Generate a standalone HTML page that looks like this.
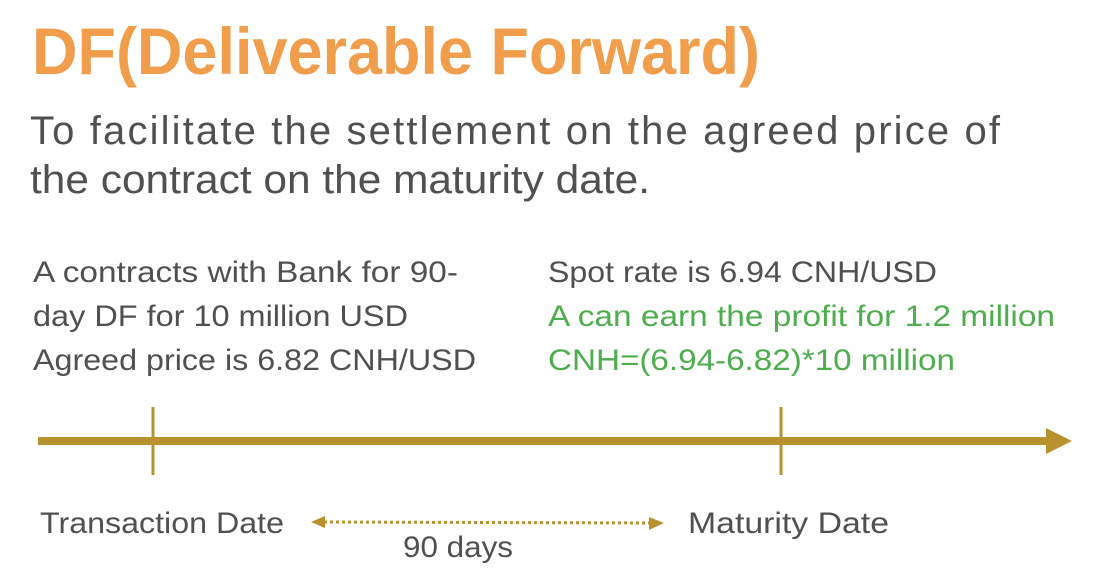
<!DOCTYPE html>
<html><head><meta charset="utf-8"><style>
html,body{margin:0;padding:0;background:#fff;width:1112px;height:582px;overflow:hidden}
text{font-family:"Liberation Sans",sans-serif}
</style></head><body>
<svg width="1112" height="582" viewBox="0 0 1112 582">
<text x="32" y="74" font-size="66" font-weight="600" fill="#F09D4C" textLength="728" lengthAdjust="spacingAndGlyphs">DF(Deliverable Forward)</text>
<g fill="#505050" font-size="40">
<text x="30" y="144" textLength="970" lengthAdjust="spacing">To facilitate the settlement on the agreed price of</text>
<text x="30" y="193" textLength="620" lengthAdjust="spacingAndGlyphs">the contract on the maturity date.</text>
</g>
<g fill="#505050" font-size="30">
<text x="33" y="282" textLength="425" lengthAdjust="spacingAndGlyphs">A contracts with Bank for 90-</text>
<text x="33" y="326" textLength="375" lengthAdjust="spacingAndGlyphs">day DF for 10 million USD</text>
<text x="33" y="370" textLength="443" lengthAdjust="spacingAndGlyphs">Agreed price is 6.82 CNH/USD</text>
</g>
<text x="548" y="282" font-size="30" fill="#505050" textLength="389" lengthAdjust="spacingAndGlyphs">Spot rate is 6.94 CNH/USD</text>
<g fill="#4EAE4E" font-size="30">
<text x="548" y="326" textLength="507" lengthAdjust="spacingAndGlyphs">A can earn the profit for 1.2 million</text>
<text x="548" y="370" textLength="407" lengthAdjust="spacingAndGlyphs">CNH=(6.94-6.82)*10 million</text>
</g>
<line x1="38" y1="441" x2="1050" y2="441" stroke="#B8922E" stroke-width="8"/>
<polygon points="1046,428 1072,441 1046,454" fill="#B8922E"/>
<line x1="153" y1="407" x2="153" y2="475" stroke="#B8922E" stroke-width="3"/>
<line x1="781" y1="407" x2="781" y2="475" stroke="#B8922E" stroke-width="3"/>
<text x="40" y="533" font-size="30" fill="#505050" textLength="244" lengthAdjust="spacingAndGlyphs">Transaction Date</text>
<text x="688" y="533" font-size="30" fill="#505050" textLength="201" lengthAdjust="spacingAndGlyphs">Maturity Date</text>
<line x1="324" y1="522" x2="650" y2="523" stroke="#B8922E" stroke-width="3" stroke-dasharray="3,3"/>
<polygon points="311,522 325,516 325,528" fill="#B8922E"/>
<polygon points="664,523 649,517 649,530" fill="#B8922E"/>
<text x="403" y="557" font-size="30" fill="#505050" textLength="110" lengthAdjust="spacingAndGlyphs">90 days</text>
</svg>
</body></html>
